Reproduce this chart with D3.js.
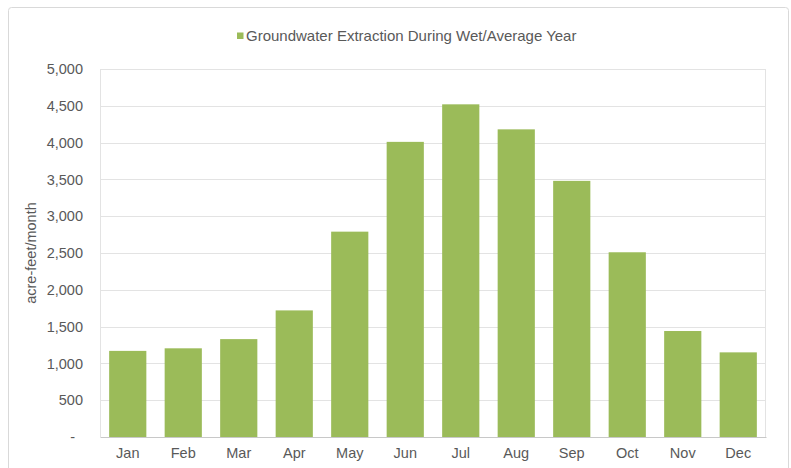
<!DOCTYPE html>
<html>
<head>
<meta charset="utf-8">
<script src="https://cdn.jsdelivr.net/npm/d3@7"></script>
<style>
  html, body { margin: 0; padding: 0; background: #fff; }
  svg { display: block; font-family: "Liberation Sans", Arial, sans-serif; }
</style>
</head>
<body>
<svg id="chart" width="791" height="468"></svg>
<script>
// Monthly groundwater extraction, acre-feet
const months = ["Jan", "Feb", "Mar", "Apr", "May", "Jun", "Jul", "Aug", "Sep", "Oct", "Nov", "Dec"];
const extraction = [1170, 1205, 1330, 1720, 2790, 4010, 4520, 4180, 3480, 2510, 1440, 1150];
const yTicks = [0, 500, 1000, 1500, 2000, 2500, 3000, 3500, 4000, 4500, 5000];
const seriesName = "Groundwater Extraction During Wet/Average Year";
const yTitle = "acre-feet/month";

const svg = d3.select("#chart");
const textColor = "#595959";
const gridColor = "#e3e3e3";
const barColor = "#9bbb59";
const fontSize = 14.5;

const plot = { left: 100, right: 766, top: 69, bottom: 437 };

// chart frame
svg.append("rect")
  .attr("x", 8.5).attr("y", 7.5)
  .attr("width", 780).attr("height", 470)
  .attr("rx", 3)
  .attr("fill", "#fff")
  .attr("stroke", "#d9d9d9");

const x = d3.scaleBand()
  .domain(months)
  .range([plot.left, plot.right])
  .paddingInner(0.33)
  .paddingOuter(0.165);

const y = d3.scaleLinear()
  .domain([0, 5000])
  .range([plot.bottom, plot.top]);

// horizontal gridlines
svg.append("g")
  .selectAll("line")
  .data(yTicks.filter(d => d > 0))
  .join("line")
  .attr("x1", plot.left).attr("x2", plot.right)
  .attr("y1", d => Math.round(y(d)) + 0.5)
  .attr("y2", d => Math.round(y(d)) + 0.5)
  .attr("stroke", gridColor);

// plot area side edges
svg.append("line")
  .attr("x1", plot.left + 0.5).attr("x2", plot.left + 0.5)
  .attr("y1", plot.top).attr("y2", plot.bottom)
  .attr("stroke", gridColor);
svg.append("line")
  .attr("x1", plot.right - 0.5).attr("x2", plot.right - 0.5)
  .attr("y1", plot.top).attr("y2", plot.bottom)
  .attr("stroke", gridColor);

// bars
svg.append("g")
  .selectAll("rect")
  .data(months.map((m, i) => ({ month: m, value: extraction[i] })))
  .join("rect")
  .attr("x", d => x(d.month))
  .attr("width", x.bandwidth())
  .attr("y", d => y(d.value))
  .attr("height", d => y(0) - y(d.value))
  .attr("fill", barColor);

// category axis
const xAxis = svg.append("g")
  .attr("transform", `translate(0,${plot.bottom})`)
  .call(d3.axisBottom(x).tickSize(0).tickPadding(11));
xAxis.select(".domain").attr("stroke", "#c8c8c8").attr("stroke-width", 1.2);
xAxis.selectAll("text")
  .attr("fill", textColor)
  .attr("font-size", fontSize)
  .attr("font-family", "Liberation Sans, Arial, sans-serif");

// value axis
const fmt = d3.format(",");
const yAxis = svg.append("g")
  .attr("transform", `translate(${plot.left - 17},0)`)
  .call(d3.axisLeft(y).tickValues(yTicks).tickSize(0).tickPadding(0)
    .tickFormat(d => d === 0 ? "-" : fmt(d)));
yAxis.select(".domain").remove();
yAxis.selectAll("text")
  .attr("fill", textColor)
  .attr("font-size", fontSize)
  .attr("font-family", "Liberation Sans, Arial, sans-serif");
yAxis.selectAll(".tick")
  .filter(d => d === 0)
  .select("text")
  .attr("dx", -8);

// axis title
svg.append("text")
  .attr("transform", `translate(36,${(plot.top + plot.bottom) / 2}) rotate(-90)`)
  .attr("text-anchor", "middle")
  .attr("fill", textColor)
  .attr("font-size", fontSize)
  .text(yTitle);

// legend
const legend = svg.append("g").attr("transform", "translate(237,36)");
legend.append("rect")
  .attr("x", 0).attr("y", -3.5)
  .attr("width", 6.5).attr("height", 6.5)
  .attr("fill", barColor);
legend.append("text")
  .attr("x", 9).attr("y", 0)
  .attr("dy", "0.35em")
  .attr("fill", textColor)
  .attr("font-size", 15)
  .text(seriesName);
</script>
</body>
</html>
